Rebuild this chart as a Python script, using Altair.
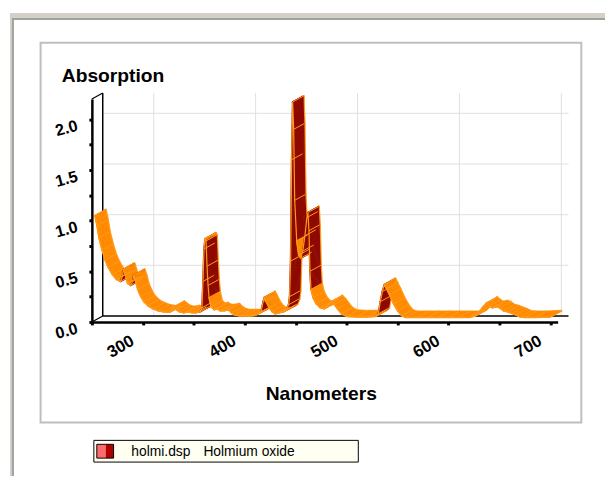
import altair as alt
import pandas as pd
import numpy as np

# ---------------- data ----------------
wavelength_nm = [253, 255, 257, 260, 263, 266, 270, 274, 278, 280, 281, 283, 285, 288, 290, 291,
                 293, 295, 298, 301, 305, 310, 315, 320, 325, 327, 330, 333, 336, 340, 345, 348,
                 352, 356, 358, 359, 360, 361, 362, 363, 364, 365, 367, 370, 373, 376, 380, 384,
                 387, 390, 395, 400, 405, 410, 413, 416, 418, 419, 421, 424, 427, 430, 434, 438,
                 441, 443, 444, 445, 446, 447, 448, 449, 451, 453, 455, 457, 459, 461, 462, 463,
                 464, 465, 467, 470, 474, 478, 482, 485, 488, 491, 495, 500, 510, 520, 528, 531,
                 533, 535, 537, 539, 542, 546, 550, 554, 558, 570, 580, 590, 600, 610, 620, 626,
                 630, 634, 637, 640, 643, 647, 650, 654, 658, 662, 666, 670, 675, 685, 700]
absorbance = [1.05, 0.95, 0.83, 0.71, 0.61, 0.54, 0.47, 0.42, 0.40, 0.45, 0.52, 0.46, 0.38, 0.36, 0.40, 0.46,
              0.40, 0.32, 0.25, 0.20, 0.16, 0.13, 0.11, 0.10, 0.095, 0.10, 0.145, 0.12, 0.10, 0.09, 0.10, 0.09,
              0.09, 0.10, 0.14, 0.40, 0.72, 0.82, 0.80, 0.55, 0.36, 0.24, 0.15, 0.12, 0.13, 0.11, 0.11, 0.12,
              0.09, 0.07, 0.06, 0.06, 0.06, 0.065, 0.08, 0.10, 0.20, 0.24, 0.20, 0.14, 0.10, 0.08, 0.09, 0.10,
              0.12, 0.17, 0.25, 0.60, 1.60, 2.17, 1.90, 1.20, 0.80, 0.66, 0.63, 0.70, 0.85, 1.03, 1.08, 0.90,
              0.50, 0.32, 0.24, 0.18, 0.14, 0.13, 0.17, 0.20, 0.17, 0.13, 0.08, 0.055, 0.05, 0.05, 0.055, 0.08,
              0.20, 0.30, 0.37, 0.33, 0.27, 0.18, 0.11, 0.06, 0.045, 0.045, 0.045, 0.045, 0.045, 0.045, 0.045, 0.06,
              0.10, 0.15, 0.185, 0.16, 0.14, 0.15, 0.14, 0.11, 0.10, 0.085, 0.07, 0.05, 0.045, 0.045, 0.05]
assert len(wavelength_nm) == len(absorbance)

x_ticks = [250, 300, 350, 400, 450, 500, 550, 600, 650, 700]
y_ticks = [0.0, 0.25, 0.5, 0.75, 1.0, 1.25, 1.5, 1.75, 2.0]
grid_x = [300, 400, 500, 600, 700]
grid_y = [0.5, 1.0, 1.5, 2.0]
x_title = "Nanometers"
y_title = "Absorption"
legend_file = ["holmi.dsp"]
legend_name = ["Holmium oxide"]

# ---------------- layout / style ----------------
X_MIN, X_MAX = 250, 707
Y_MAX = 2.2
W, H = 472, 226
PAD_L, PAD_T = 85, 89
OX, OY = 8 + PAD_L, 8 + PAD_T  # page position of plot origin
DX, DY = 11, -6                # 3D depth offset in pixels
K = 12
ORANGE = "#FF8A00"
DARK = "#8E0A00"
EDGE = "#FF9A1A"
FONT = "Liberation Sans"

ppx = W / (X_MAX - X_MIN)
ppy = H / Y_MAX

seg = pd.DataFrame({
    "nm": wavelength_nm[:-1], "a": absorbance[:-1],
    "nm2": wavelength_nm[1:], "a2": absorbance[1:],
})
slope = (seg["a2"] - seg["a"]) * ppy / ((seg["nm2"] - seg["nm"]) * ppx)
seg["face"] = np.where((slope > 1.6) | (slope < -10), "side", "top")
pts = pd.DataFrame({"nm": wavelength_nm, "a": absorbance})
one = pd.DataFrame({"k": [0]})

# extents of the 3D box, built from the axis domains
box = pd.DataFrame({"x0": [X_MIN], "x1": [X_MAX], "y0": [0.0], "y1": [Y_MAX]})
gx = pd.DataFrame({"v": grid_x, "y0": 0.0, "y1": Y_MAX})
gy = pd.DataFrame({"v": grid_y, "x0": X_MIN, "x1": X_MAX})
corners = pd.DataFrame({"x": [X_MIN, X_MIN], "y": [0.0, Y_MAX]})

xs = alt.Scale(domain=[X_MIN, X_MAX], nice=False, zero=False)
ys = alt.Scale(domain=[0, Y_MAX], nice=False, zero=True)
face_scale = alt.Scale(domain=["top", "side"], range=[ORANGE, DARK])

x_axis = alt.Axis(values=x_ticks, labelExpr="datum.value % 100 == 0 ? datum.label : ''",
                  title=x_title, titleX=232, titleY=79, titleAlign="center", titleBaseline="alphabetic",
                  titleFont=FONT, titleFontSize=19.5, titleFontWeight="bold", titleColor="black",
                  labelAngle=330, labelAlign="right", labelBaseline="alphabetic", labelPadding=19,
                  labelOffset=-8,
                  labelFont=FONT, labelFontSize=17, labelFontWeight="bold", labelColor="black",
                  labelOverlap=False, labelFlush=False,
                  tickSize=3, tickWidth=3, tickColor="black",
                  domainColor="black", domainWidth=2.5, grid=False, zindex=1)
y_axis = alt.Axis(values=y_ticks, labelExpr="datum.value % 0.5 == 0 ? format(datum.value, '.1f') : ''",
                  title=y_title, titleX=-31, titleY=-18, titleAngle=0, titleAlign="left",
                  titleBaseline="alphabetic", titleFont=FONT, titleFontSize=19.5, titleFontWeight="bold",
                  titleColor="black",
                  labelAngle=345, labelAlign="right", labelBaseline="middle", labelPadding=12, labelOffset=6,
                  labelFont=FONT, labelFontSize=16.5, labelFontWeight="bold", labelColor="black",
                  labelOverlap=False, labelFlush=False,
                  tickSize=3, tickWidth=3, tickColor="black",
                  domainColor="black", domainWidth=2.5, grid=False, zindex=1)


def X(f):
    return alt.X(f, type="quantitative", scale=xs, axis=x_axis)


def Y(f):
    return alt.Y(f, type="quantitative", scale=ys, axis=y_axis)


def page_rect(x0, y0, x1, y1, **mark):
    return alt.Chart(one).mark_rect(**mark).encode(
        x=alt.value(x0 - OX), x2=alt.value(x1 - OX),
        y=alt.value(y0 - OY), y2=alt.value(y1 - OY))


layers = []
# window frame
layers.append(page_rect(10, 10, 613, 16, color="#D4D0C8"))
layers.append(page_rect(10, 10, 13, 479, color="#D4D0C8"))
layers.append(page_rect(13, 15, 613, 17, color="#A0A0A0"))
layers.append(page_rect(12, 15, 14, 479, color="#A0A0A0"))
layers.append(page_rect(41, 40, 589, 425, fill="white", stroke="#BEBEBE", strokeWidth=2))

# back wall grid
layers.append(alt.Chart(gx).mark_rule(color="#E0E0E0", strokeWidth=1, xOffset=DX, x2Offset=DX,
                                      yOffset=DY, y2Offset=DY).encode(
    x=X("v"), y=Y("y0"), y2="y1:Q"))
layers.append(alt.Chart(gy).mark_rule(color="#E0E0E0", strokeWidth=1, xOffset=DX, x2Offset=DX,
                                      yOffset=DY, y2Offset=DY).encode(
    y=Y("v"), x=X("x0"), x2="x1:Q"))
# back wall outline (left + floor back edge)
layers.append(alt.Chart(box).mark_rule(color="black", strokeWidth=1.5, xOffset=DX, x2Offset=DX,
                                       yOffset=DY, y2Offset=DY).encode(
    x=X("x0"), y=Y("y0"), y2="y1:Q"))
layers.append(alt.Chart(box).mark_rule(color="black", strokeWidth=1.5, xOffset=DX, x2Offset=DX,
                                       yOffset=DY, y2Offset=DY).encode(
    y=Y("y0"), x=X("x0"), x2="x1:Q"))
# depth diagonals at the left corners
layers.append(alt.Chart(corners).mark_rule(color="black", strokeWidth=1.2, x2Offset=DX, y2Offset=DY).encode(
    x=X("x"), x2="x:Q", y=Y("y"), y2="y:Q"))

# ribbon: back edge first, then copies toward the front
for k in range(K, -1, -1):
    ox, oy = DX * k / K, DY * k / K
    if k == K:
        c = alt.value(EDGE)
        sw = 2.2
    else:
        c = alt.Color("face:N", scale=face_scale, legend=None)
        sw = 1.6
    layers.append(alt.Chart(seg).mark_rule(strokeWidth=sw, strokeCap="round",
                                           xOffset=ox, x2Offset=ox, yOffset=oy, y2Offset=oy)
                  .encode(x=X("nm"), x2="nm2:Q", y=Y("a"), y2="a2:Q", color=c))

# depth edges at each reading (hatch lines on the side faces)
layers.append(alt.Chart(pts).mark_rule(color=EDGE, strokeWidth=1, x2Offset=DX, y2Offset=DY).encode(
    x=X("nm"), x2="nm:Q", y=Y("a"), y2="a:Q"))

# front edge
layers.append(alt.Chart(pts).mark_line(color=EDGE, strokeWidth=1.2).encode(x=X("nm"), y=Y("a")))

# legend box
layers.append(page_rect(95, 443, 363, 465, fill="#FFFFF2", stroke="black", strokeWidth=1))
layers.append(page_rect(98, 447, 107, 461, color="#FF6A6A"))
layers.append(page_rect(107, 447, 115, 461, color="#B00000"))
layers.append(page_rect(98, 447, 115, 461, fillOpacity=0, stroke="black", strokeWidth=1))
layers.append(alt.Chart(pd.DataFrame({"t": legend_file})).mark_text(
    align="left", baseline="alphabetic", font=FONT, fontSize=14, color="black").encode(
    x=alt.value(133 - OX), y=alt.value(459 - OY), text="t:N"))
layers.append(alt.Chart(pd.DataFrame({"t": legend_name})).mark_text(
    align="left", baseline="alphabetic", font=FONT, fontSize=14, color="black").encode(
    x=alt.value(206 - OX), y=alt.value(459 - OY), text="t:N"))

chart = alt.layer(*layers).properties(
    width=W, height=H,
    padding={"left": PAD_L, "top": PAD_T, "right": 605 - PAD_L - W, "bottom": 471 - PAD_T - H},
    autosize=alt.AutoSizeParams(type="none"),
    background="white",
).configure_view(stroke=None)

chart.save("out.html", embed_options={"renderer": "svg", "actions": False})
